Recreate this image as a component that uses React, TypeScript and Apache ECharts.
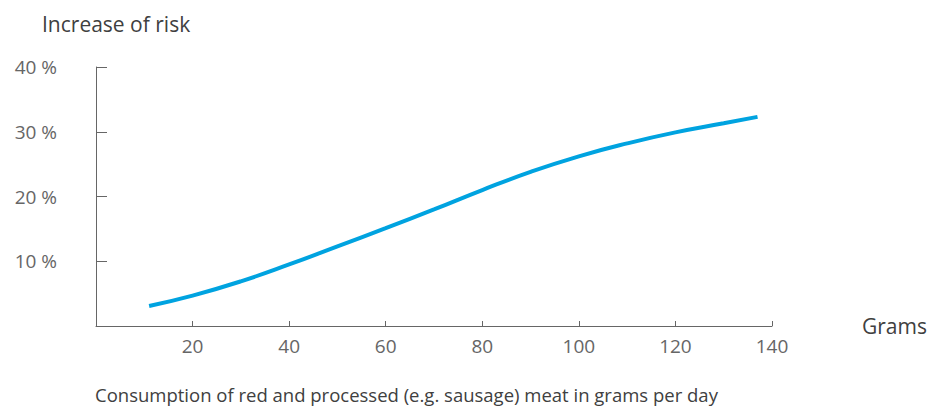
import React, { useEffect, useRef } from "react";
import * as echarts from "echarts";

const grams = [11, 20, 30, 40, 50, 60, 70, 80, 90, 100, 110, 120, 130, 137];
const riskPct = [3.1, 4.7, 6.9, 9.5, 12.3, 15.1, 18.0, 21.0, 23.8, 26.2, 28.2, 29.9, 31.3, 32.3];
const xTicks = [20, 40, 60, 80, 100, 120, 140];
const yTicks = [10, 20, 30, 40];

const FONT = "'Open Sans', Lato, sans-serif";
const GREY = "#666666";

export default function App() {
  const ref = useRef<HTMLDivElement>(null);
  useEffect(() => {
    if (!ref.current) return;
    const chart = echarts.init(ref.current, undefined, { renderer: "svg" });
    chart.setOption({
      animation: false,
      grid: { left: 96, right: 163, top: 67, bottom: 82 },
      xAxis: {
        type: "value",
        min: 0,
        max: 140,
        interval: 20,
        axisLine: { show: true, lineStyle: { color: "#666", width: 1 } },
        axisTick: { show: true, inside: true, length: 5, lineStyle: { color: "#666" } },
        splitLine: { show: false },
        axisLabel: {
          margin: 10,
          color: GREY,
          fontFamily: FONT,
          fontSize: 19,
          formatter: (v: number) => (xTicks.includes(v) ? String(v) : ""),
        },
      },
      yAxis: {
        type: "value",
        min: 0,
        max: 40,
        interval: 10,
        axisLine: { show: true, lineStyle: { color: "#666", width: 1 } },
        axisTick: { show: true, inside: true, length: 11, lineStyle: { color: "#666" } },
        splitLine: { show: false },
        axisLabel: {
          margin: 39,
          color: GREY,
          fontFamily: FONT,
          fontSize: 19,
          formatter: (v: number) => (yTicks.includes(v) ? `${v} %` : ""),
        },
      },
      series: [
        {
          type: "line",
          data: grams.map((g, i) => [g, riskPct[i]]),
          smooth: true,
          symbol: "none",
          lineStyle: { color: "#00a3e0", width: 4 },
        },
      ],
      graphic: [
        {
          type: "text",
          left: 42,
          top: 13,
          style: { text: "Increase of risk", fill: "#404040", font: `21px ${FONT}` },
        },
        {
          type: "text",
          left: 862,
          top: 315,
          style: { text: "Grams", fill: "#404040", font: `21px ${FONT}` },
        },
        {
          type: "text",
          left: 95,
          top: 385,
          style: {
            text: "Consumption of red and processed (e.g. sausage) meat in grams per day",
            fill: "#404040",
            font: `18.5px ${FONT}`,
          },
        },
      ],
    });
    return () => chart.dispose();
  }, []);
  return (
    <div
      ref={ref}
      style={{ position: "absolute", left: 0, top: 0, width: 935, height: 408 }}
    />
  );
}
